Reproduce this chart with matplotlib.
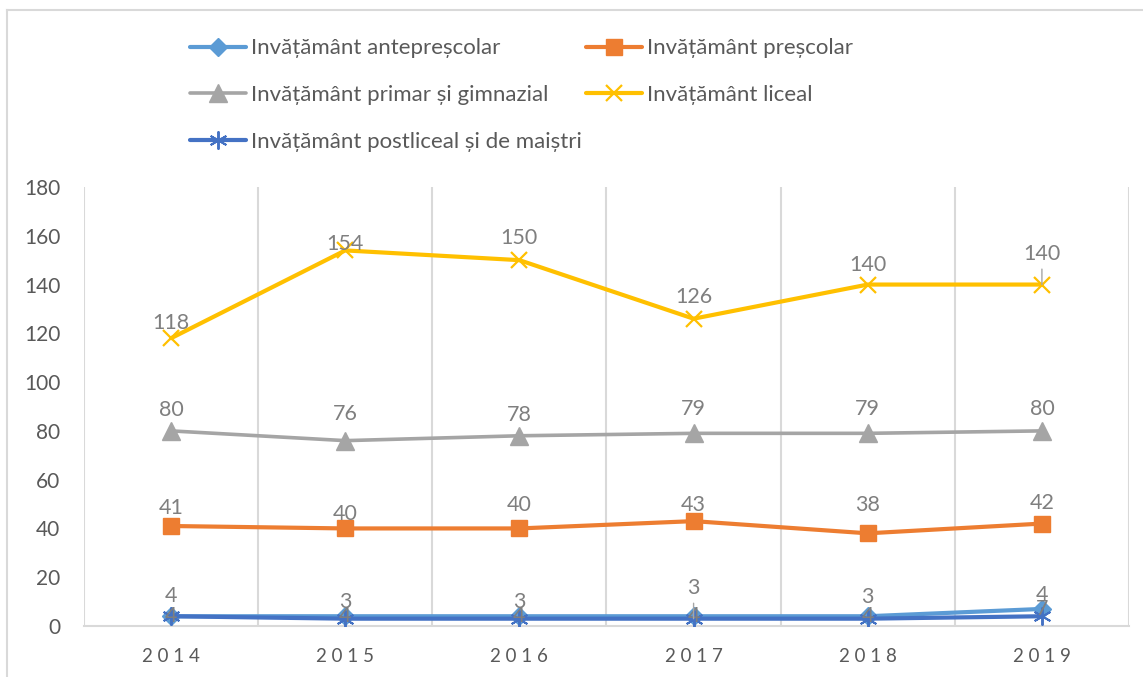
import matplotlib
matplotlib.use('Agg')
import matplotlib.pyplot as plt
from matplotlib.lines import Line2D

# ---- data ----
years = ['2014', '2015', '2016', '2017', '2018', '2019']
antepre = [4, 4, 4, 4, 4, 7]
prescolar = [41, 40, 40, 43, 38, 42]
primar = [80, 76, 78, 79, 79, 80]
liceal = [118, 154, 150, 126, 140, 140]
postliceal = [4, 3, 3, 3, 3, 4]
names = ['Invățământ antepreșcolar', 'Invățământ preșcolar',
         'Invățământ primar și gimnazial', 'Invățământ liceal',
         'Invățământ postliceal și de maiștri']
y_ticks = [0, 20, 40, 60, 80, 100, 120, 140, 160, 180]

# ---- style ----
plt.rcParams['font.family'] = ['Lato', 'DejaVu Sans']
W, H = 1143, 677
PX = 0.72  # points per pixel at dpi 100
fig = plt.figure(figsize=(W / 100, H / 100), dpi=100)
ax = fig.add_axes([84 / W, 1 - 626 / H, (1129 - 84) / W, (626 - 187) / H])

colors = ['#5B9BD5', '#ED7D31', '#A5A5A5', '#FFC000', '#4472C4']
markers = ['D', 's', '^', 'x', (6, 2, 0)]
msizes = [9, 12, 13, 12, 13]
mews = [1, 1, 1, 1.6, 1.4]
lws = [3, 3, 2.6, 3, 3]
series = [antepre, prescolar, primar, liceal, postliceal]

# label offsets (pixels upward) per point
offsets = [
    [0, 0, 0, 0, 0, 0],
    [18, 14, 23, 16, 28, 21],
    [21, 27, 21, 24, 24, 22],
    [15, 6, 22, 22, 20, 31],
    [20, 17, 17, 31, 22, 21],
]
leaders = {(3, 5), (4, 3)}

x = list(range(len(years)))
lines = []
for i, vals in enumerate(series):
    ln, = ax.plot(x, vals, color=colors[i], lw=lws[i], marker=markers[i],
                  ms=msizes[i], mew=mews[i], mec=colors[i], mfc=colors[i],
                  label=names[i], zorder=3 + i, solid_capstyle='round')
    lines.append(ln)

for i, vals in enumerate(series):
    for j, v in enumerate(vals):
        kw = dict(xy=(j, v), xytext=(0, offsets[i][j] * PX),
                  textcoords='offset points', ha='center', va='center',
                  fontsize=15.5, color='#7F7F7F', zorder=10)
        if (i, j) in leaders:
            kw['arrowprops'] = dict(arrowstyle='-', color='#A6A6A6', lw=1,
                                    shrinkA=2, shrinkB=0)
        ax.annotate(str(v), **kw)

ax.set_xlim(-0.5, len(years) - 0.5)
ax.set_ylim(0, 180)
ax.set_yticks(y_ticks)
ax.set_yticklabels([str(t) for t in y_ticks])
ax.set_xticks(x)
ax.set_xticklabels([' '.join(y) for y in years])
ax.tick_params(axis='y', length=0, pad=17, labelsize=15, labelcolor='#595959')
ax.tick_params(axis='x', length=0, pad=16, labelsize=13.5, labelcolor='#595959')

for k in range(len(years) + 1):
    ax.axvline(k - 0.5, color='#D9D9D9', lw=1.5, zorder=1)
for s in ['top', 'right', 'left']:
    ax.spines[s].set_visible(False)
ax.spines['bottom'].set_color('#D9D9D9')
ax.spines['bottom'].set_linewidth(1.5)

# chart frame (cropped on right/bottom)
fig.add_artist(Line2D([7 / W, 7 / W], [0, 1 - 10 / H], transform=fig.transFigure,
                      color='#D9D9D9', lw=1.5))
fig.add_artist(Line2D([7 / W, 1], [1 - 10 / H, 1 - 10 / H], transform=fig.transFigure,
                      color='#D9D9D9', lw=1.5))

order = [0, 2, 4, 1, 3]
leg = fig.legend([lines[k] for k in order], [names[k] for k in order], ncol=2,
                 loc='upper left', bbox_to_anchor=(190 / W, 1 - 38.5 / H),
                 frameon=False, fontsize=16, labelcolor='#595959',
                 handlelength=2.5, handletextpad=0.23, columnspacing=0.2,
                 labelspacing=1.2, borderpad=0, borderaxespad=0)

fig.savefig('out.png', dpi=100, facecolor='white')
